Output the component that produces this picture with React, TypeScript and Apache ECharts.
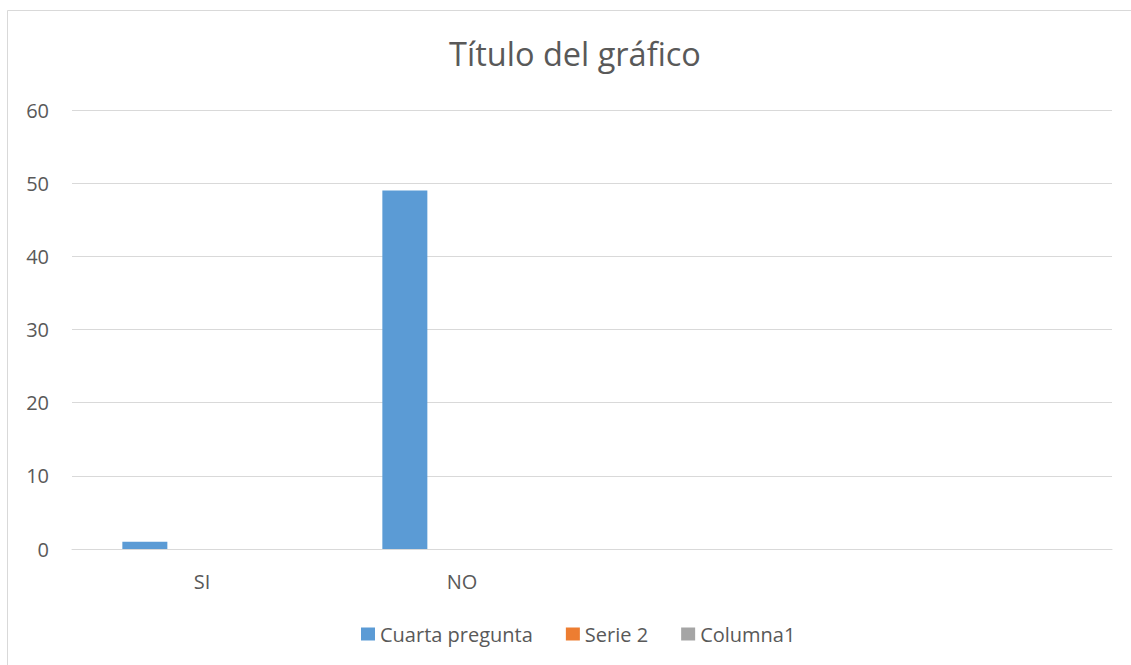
import React, { useEffect, useRef } from "react";
import * as echarts from "echarts";

const categories = ["SI", "NO", "", ""];
const seriesNames = ["Cuarta pregunta", "Serie 2", "Columna1"];
const cuartaPregunta = [1, 49, null, null];
const serie2 = [0, 0, null, null];
const columna1 = [0, 0, null, null];
const colors = ["#5b9bd5", "#ed7d31", "#a5a5a5"];

const FONT = "'Open Sans', 'Liberation Sans', sans-serif";

export default function App() {
  const ref = useRef<HTMLDivElement>(null);
  useEffect(() => {
    const chart = echarts.init(ref.current!, null, { renderer: "svg" });
    const data = [cuartaPregunta, serie2, columna1];
    chart.setOption({
      animation: false,
      backgroundColor: "#ffffff",
      textStyle: { fontFamily: FONT },
      title: {
        text: "Título del gráfico",
        left: 570,
        top: 32,
        textAlign: "center",
        textStyle: { fontFamily: FONT, fontSize: 32.5, fontWeight: "normal", color: "#595959" },
      },
      graphic: [
        {
          type: "rect",
          shape: { x: 7.5, y: 10.5, width: 1200, height: 700 },
          style: { fill: "none", stroke: "#d9d9d9", lineWidth: 1 },
          silent: true,
        },
      ],
      legend: {
        left: 361,
        top: 624,
        padding: 0,
        icon: "rect",
        itemWidth: 14,
        itemHeight: 13,
        itemGap: 33,
        textStyle: { fontFamily: FONT, fontSize: 20, color: "#595959" },
        data: seriesNames,
      },
      grid: { left: 72, right: 19, top: 110, bottom: 116, containLabel: false },
      xAxis: {
        type: "category",
        data: categories,
        axisLine: { show: true, lineStyle: { color: "#d9d9d9", width: 1 } },
        axisTick: { show: false },
        axisLabel: { fontFamily: FONT, fontSize: 20, color: "#595959", margin: 22 },
      },
      yAxis: {
        type: "value",
        min: 0,
        max: 60,
        interval: 10,
        axisLine: { show: false },
        axisTick: { show: false },
        splitLine: { lineStyle: { color: "#d9d9d9", width: 1 } },
        axisLabel: { fontFamily: FONT, fontSize: 20, color: "#595959", margin: 23 },
      },
      series: seriesNames.map((name, i) => ({
        name,
        type: "bar",
        data: data[i],
        barWidth: 45,
        barGap: "27%",
        itemStyle: { color: colors[i] },
      })),
    });
    return () => chart.dispose();
  }, []);
  return (
    <div
      ref={ref}
      style={{ position: "fixed", left: 0, top: 0, width: 1131, height: 665 }}
    />
  );
}
